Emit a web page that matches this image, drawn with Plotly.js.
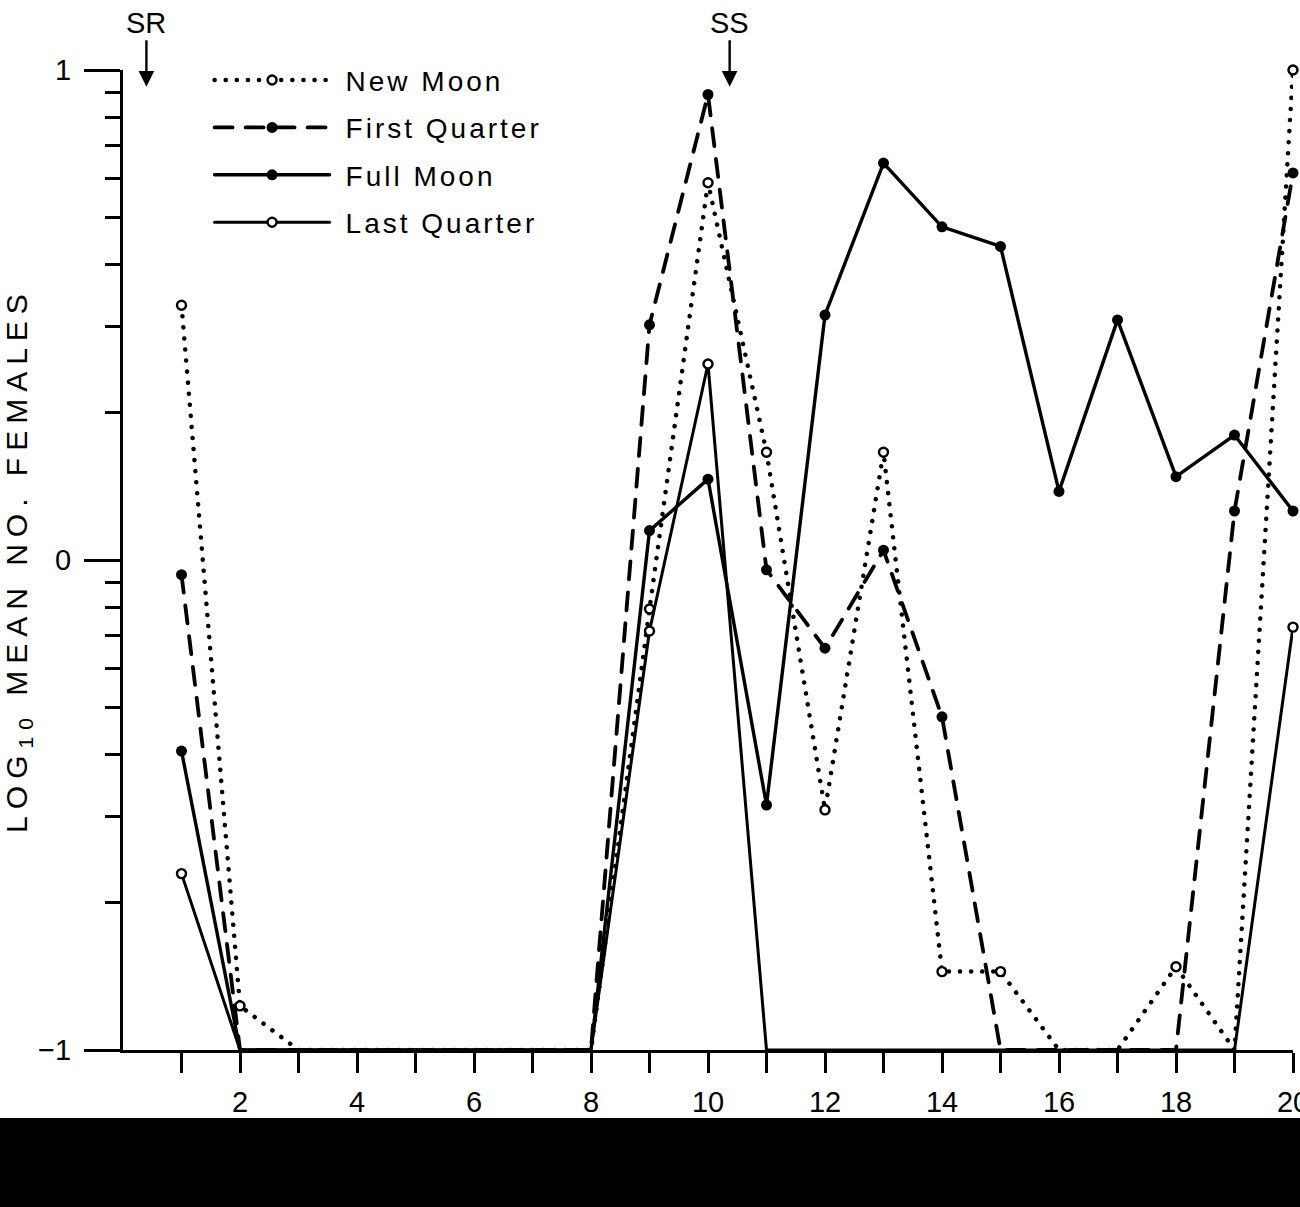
<!DOCTYPE html>
<html>
<head>
<meta charset="utf-8">
<script src="https://cdn.plot.ly/plotly-3.0.1.min.js"></script>
<style>
html,body{margin:0;padding:0;background:#fff;}
#chart{width:1300px;height:1207px;}
.scatterlayer .js-line, .legend .js-line{stroke-linecap:round;}
.ytitle{letter-spacing:7px;}
.legend .scrollbox{clip-path:none !important;}
.legend .legendtext{letter-spacing:3px;transform:translate(11px,0);}
</style>
</head>
<body>
<div id="chart"></div>
<script>
// hour index (x) and log10 mean number of females (y); -1 = none caught (baseline)
const hours = [1,2,3,4,5,6,7,8,9,10,11,12,13,14,15,16,17,18,19,20];
const newMoon      = [0.52, -0.91, -1, -1, -1, -1, -1, -1, -0.10, 0.77, 0.22, -0.51, 0.22, -0.84, -0.84, -1, -1, -0.83, -1, 1.00];
const firstQuarter = [-0.03, -1, -1, -1, -1, -1, -1, -1, 0.48, 0.95, -0.02, -0.18, 0.02, -0.32, -1, -1, -1, -1, 0.10, 0.79];
const fullMoon     = [-0.39, -1, -1, -1, -1, -1, -1, -1, 0.06, 0.165, -0.50, 0.50, 0.81, 0.68, 0.64, 0.14, 0.49, 0.17, 0.255, 0.10];
const lastQuarter  = [-0.64, -1, -1, -1, -1, -1, -1, -1, -0.145, 0.40, -1, -1, -1, -1, -1, -1, -1, -1, -1, -0.137];
const seriesNames  = ['New Moon', 'First Quarter', 'Full Moon', 'Last Quarter'];
const xTickLabels  = ['2','4','6','8','10','12','14','16','18','20'];
const yTickLabels  = ['\u22121','0','1'];
const markerLabels = ['SR','SS'];
const markerHours  = [0.40, 10.37];

const FONT = 'Liberation Sans, Arial, sans-serif';
const BASE = -1;

function mkTrace(name, ys, dash, width, filled, size, lw) {
  const vis = ys.map(v => v > BASE + 1e-9);
  return {
    type: 'scatter', mode: 'lines+markers', name: name,
    x: hours, y: ys, cliponaxis: false,
    legendgroup: name,
    line: {color: '#000', width: width, dash: dash},
    marker: {
      symbol: 'circle', size: size,
      color: vis.map(v => v ? (filled ? '#000' : '#fff') : 'rgba(0,0,0,0)'),
      line: {width: filled ? 0 : lw, color: vis.map(v => v ? '#000' : 'rgba(0,0,0,0)')}
    },
    hoverinfo: 'x+y'
  };
}

const traces = [
  mkTrace(seriesNames[0], newMoon, '0.1px,11px', 4.5, false, 9, 2.4),
  mkTrace(seriesNames[1], firstQuarter, '18px,13px', 3.8, true, 11, 0),
  mkTrace(seriesNames[2], fullMoon, 'solid', 3.4, true, 11, 0),
  mkTrace(seriesNames[3], lastQuarter, 'solid', 3, false, 9, 2.4)
];

const evenTicks = xTickLabels.map(Number);
const oddTicks = hours.filter(h => h % 2 === 1);
const yMinor = [];
for (let k = 2; k <= 9; k++) { yMinor.push(Math.log10(k)); yMinor.push(Math.log10(k / 10)); }

const annotations = markerLabels.map((t, i) => ({
  text: t, x: markerHours[i], xref: 'x', y: 0.983, yref: 'paper',
  showarrow: true, arrowhead: 2, arrowsize: 1.3, arrowwidth: 2.4, arrowcolor: '#000',
  ax: 0, ay: -64, standoff: 0,
  font: {family: FONT, size: 29, color: '#000'}
}));

const layout = {
  width: 1300, height: 1207,
  paper_bgcolor: '#fff', plot_bgcolor: '#fff',
  margin: {l: 123, r: 7, t: 70, b: 157},
  font: {family: FONT, color: '#000'},
  showlegend: true,
  legend: {
    x: 0.074, y: 1.015, xanchor: 'left', yanchor: 'top',
    bgcolor: 'rgba(0,0,0,0)', borderwidth: 0,
    font: {family: FONT, size: 28, color: '#000'},
    itemwidth: 115, tracegroupgap: 8,
    itemclick: false, itemdoubleclick: false
  },
  xaxis: {
    range: [0, 20], showgrid: false, zeroline: false,
    showline: true, linecolor: '#000', linewidth: 3,
    ticks: 'outside', ticklen: 20, tickwidth: 3, tickcolor: '#000',
    tickmode: 'array', tickvals: evenTicks, ticktext: xTickLabels,
    ticklabelstandoff: 4, ticklabeloverflow: 'allow',
    tickfont: {family: FONT, size: 29, color: '#000'},
    minor: {tickmode: 'array', tickvals: oddTicks, ticks: 'outside', ticklen: 20, tickwidth: 3, tickcolor: '#000', showgrid: false},
    fixedrange: true
  },
  yaxis: {
    range: [-1, 1], showgrid: false, zeroline: false,
    showline: true, linecolor: '#000', linewidth: 3,
    ticks: 'outside', ticklen: 36, tickwidth: 3, tickcolor: '#000',
    tickmode: 'array', tickvals: [-1, 0, 1], ticktext: yTickLabels,
    ticklabelstandoff: 7,
    tickfont: {family: FONT, size: 29, color: '#000'},
    minor: {tickmode: 'array', tickvals: yMinor, ticks: 'outside', ticklen: 15, tickwidth: 3, tickcolor: '#000', showgrid: false},
    title: {text: 'LOG<sub>10</sub> MEAN NO. FEMALES', font: {family: FONT, size: 30, color: '#000'}, standoff: 6},
    fixedrange: true
  },
  annotations: annotations,
  shapes: [{
    type: 'rect', xref: 'paper', yref: 'paper',
    x0: -0.2, x1: 1.2, y0: -0.2, y1: -0.0694,
    fillcolor: '#000', line: {width: 0}, layer: 'below'
  }]
};

Plotly.newPlot('chart', traces, layout, {staticPlot: true, displayModeBar: false});
</script>
</body>
</html>
